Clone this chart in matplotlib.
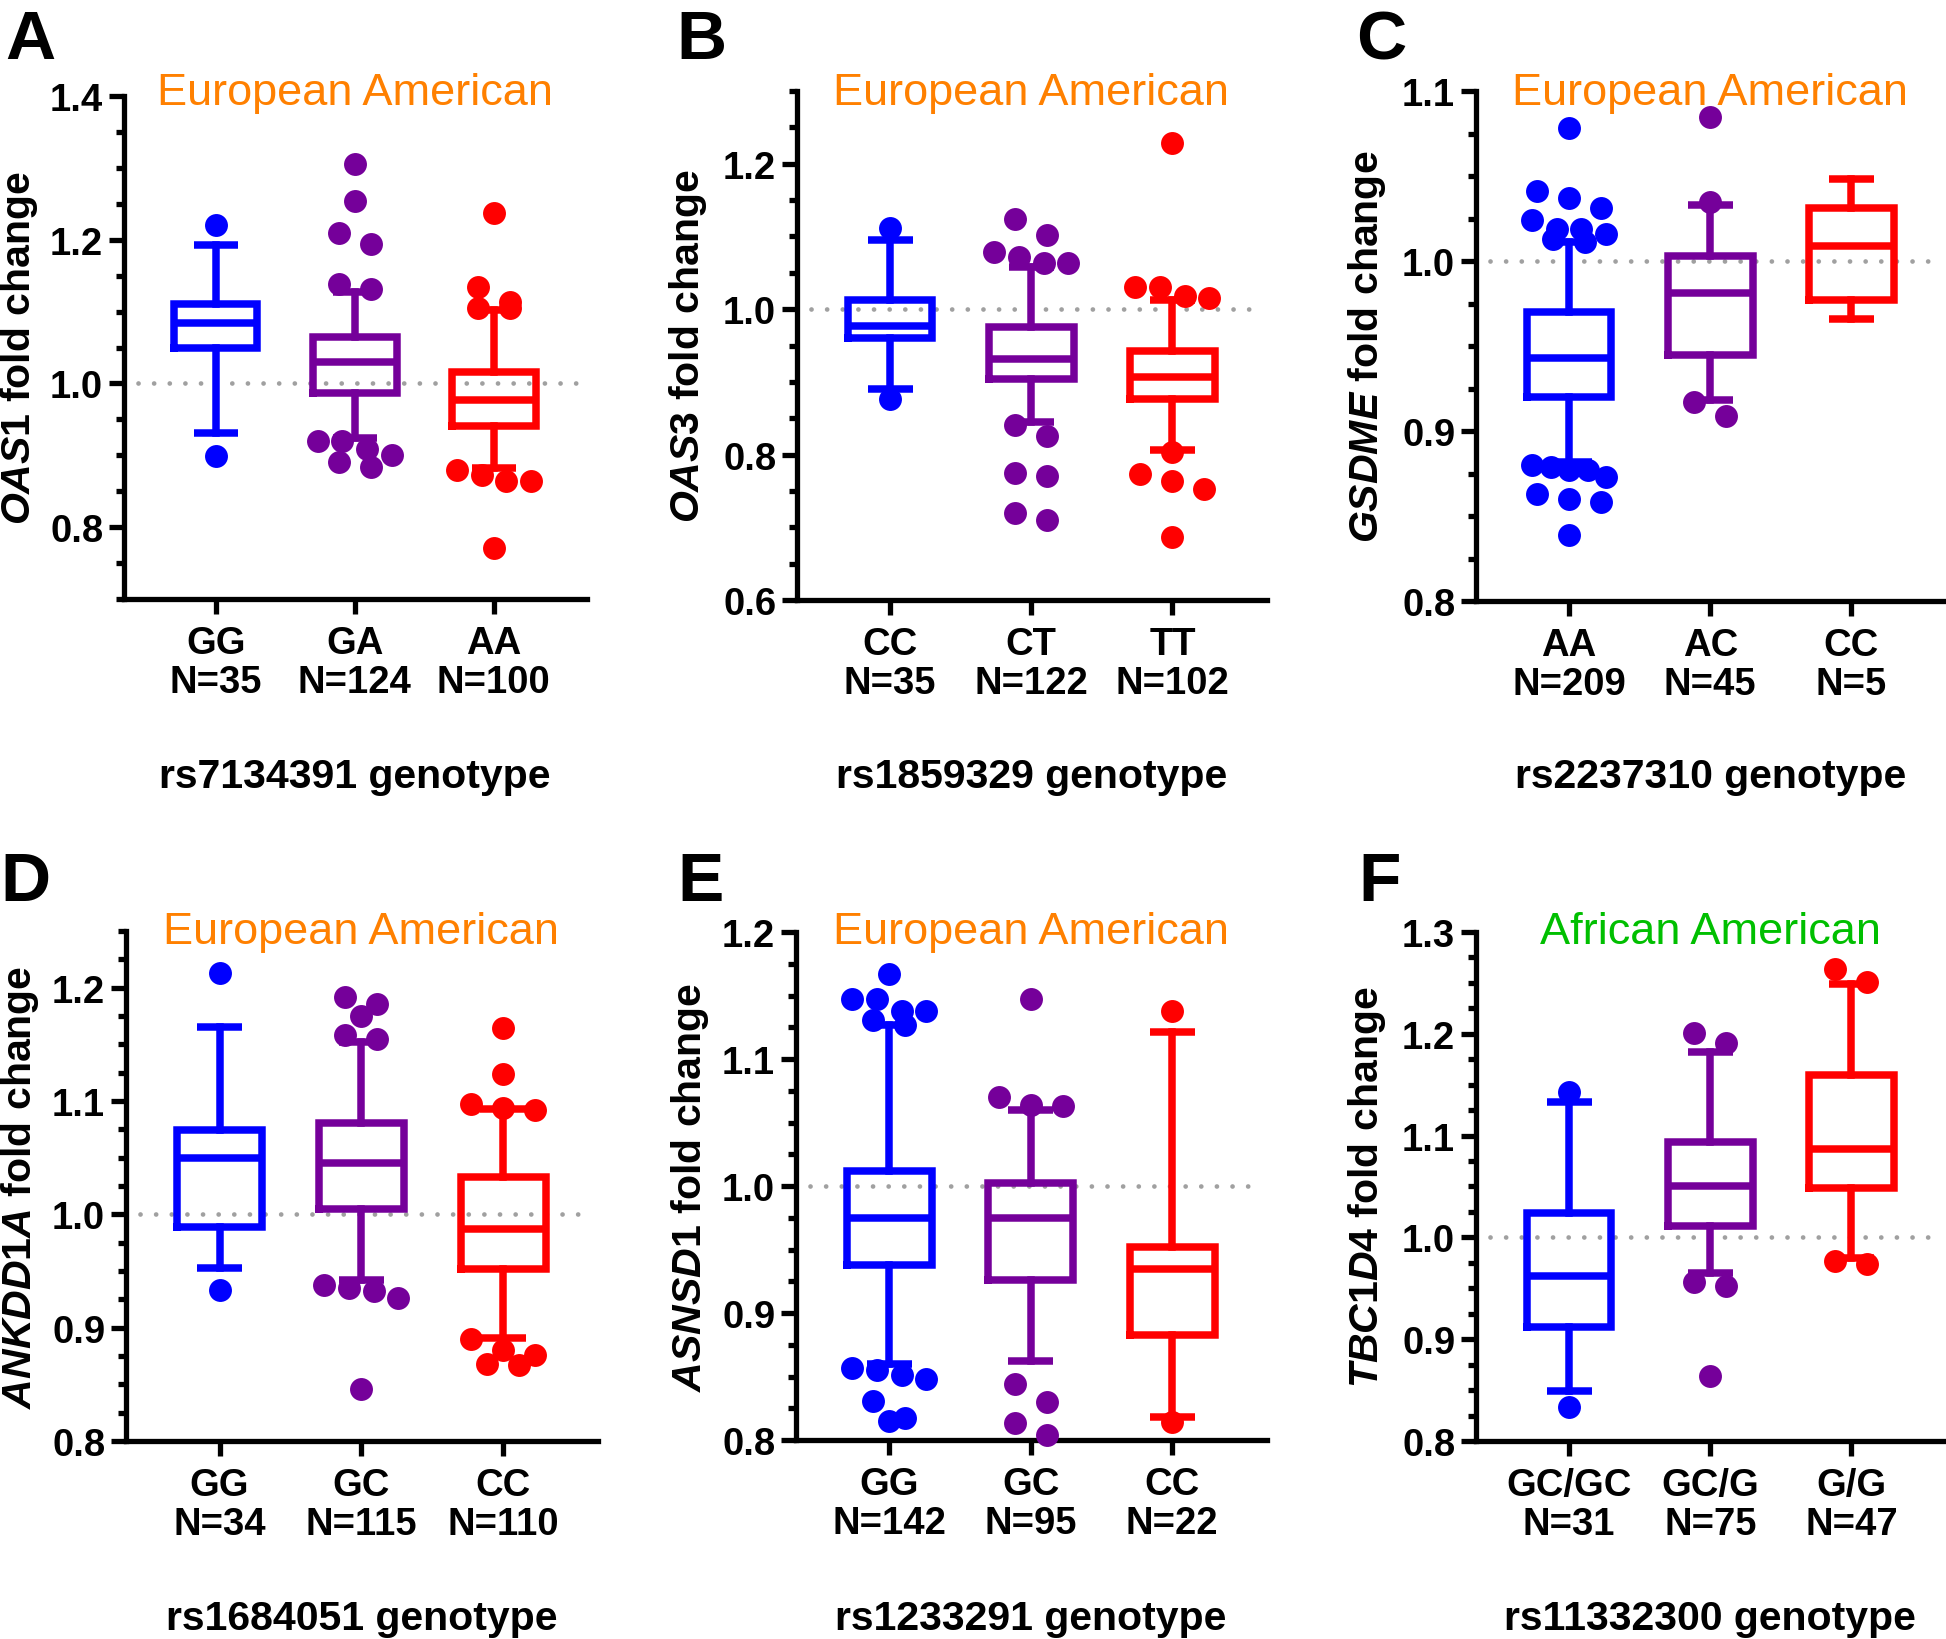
import matplotlib
matplotlib.use("Agg")
import matplotlib.pyplot as plt
from matplotlib.ticker import MultipleLocator, FormatStrFormatter

plt.rcParams['font.family'] = ['Liberation Sans', 'DejaVu Sans']
plt.rcParams['mathtext.fontset'] = 'custom'
plt.rcParams['mathtext.it'] = 'Liberation Sans:italic:bold'
plt.rcParams['mathtext.rm'] = 'Liberation Sans:bold'
plt.rcParams['mathtext.bf'] = 'Liberation Sans:bold'

# ---------------- data ----------------
A_labels = ["GG\nN=35", "GA\nN=124", "AA\nN=100"]
A_med = [1.084, 1.030, 0.977]
A_q1 = [1.049, 0.987, 0.941]
A_q3 = [1.110, 1.064, 1.016]
A_lo = [0.931, 0.924, 0.882]
A_hi = [1.193, 1.127, 1.102]
A_out = [[1.221, 0.899],
         [1.305, 1.254, 1.209, 1.194, 1.138, 1.131, 0.920, 0.920, 0.909, 0.900, 0.891, 0.884],
         [1.237, 1.134, 1.114, 1.105, 1.105, 0.880, 0.873, 0.864, 0.864, 0.771]]

B_labels = ["CC\nN=35", "CT\nN=122", "TT\nN=102"]
B_med = [0.977, 0.932, 0.906]
B_q1 = [0.961, 0.904, 0.876]
B_q3 = [1.013, 0.975, 0.942]
B_lo = [0.890, 0.845, 0.806]
B_hi = [1.095, 1.058, 1.012]
B_out = [[1.112, 0.876],
         [1.124, 1.102, 1.079, 1.072, 1.064, 1.064, 0.841, 0.825, 0.774, 0.771, 0.719, 0.710],
         [1.228, 1.030, 1.030, 1.018, 1.016, 0.804, 0.773, 0.763, 0.753, 0.686]]

C_labels = ["AA\nN=209", "AC\nN=45", "CC\nN=5"]
C_med = [0.943, 0.981, 1.009]
C_q1 = [0.920, 0.945, 0.977]
C_q3 = [0.970, 1.003, 1.031]
C_lo = [0.882, 0.918, 0.966]
C_hi = [1.011, 1.033, 1.048]
C_out = [[1.078, 1.041, 1.037, 1.031, 1.024, 1.019, 1.019, 1.016, 1.013, 1.011,
          0.880, 0.879, 0.877, 0.877, 0.873, 0.863, 0.860, 0.858, 0.839],
         [1.085, 1.035, 0.917, 0.909],
         []]

D_labels = ["GG\nN=34", "GC\nN=115", "CC\nN=110"]
D_med = [1.050, 1.045, 0.987]
D_q1 = [0.989, 1.005, 0.952]
D_q3 = [1.074, 1.081, 1.033]
D_lo = [0.953, 0.942, 0.891]
D_hi = [1.165, 1.152, 1.093]
D_out = [[1.213, 0.933],
         [1.192, 1.186, 1.175, 1.158, 1.155, 0.938, 0.935, 0.932, 0.926, 0.846],
         [1.164, 1.124, 1.097, 1.094, 1.092, 0.890, 0.880, 0.876, 0.868, 0.867]]

E_labels = ["GG\nN=142", "GC\nN=95", "CC\nN=22"]
E_med = [0.975, 0.975, 0.935]
E_q1 = [0.938, 0.926, 0.883]
E_q3 = [1.012, 1.002, 0.952]
E_lo = [0.860, 0.862, 0.818]
E_hi = [1.127, 1.060, 1.121]
E_out = [[1.167, 1.147, 1.147, 1.138, 1.138, 1.131, 1.127,
          0.857, 0.855, 0.851, 0.848, 0.831, 0.817, 0.815],
         [1.147, 1.070, 1.064, 1.063, 0.844, 0.830, 0.813, 0.804],
         [1.138, 0.814]]

F_labels = ["GC/GC\nN=31", "GC/G\nN=75", "G/G\nN=47"]
F_med = [0.962, 1.050, 1.087]
F_q1 = [0.912, 1.011, 1.049]
F_q3 = [1.024, 1.094, 1.160]
F_lo = [0.849, 0.965, 0.980]
F_hi = [1.133, 1.182, 1.249]
F_out = [[1.143, 0.833],
         [1.201, 1.191, 0.956, 0.952, 0.864],
         [1.264, 1.251, 0.977, 0.974]]

genes = ["OAS1", "OAS3", "GSDME", "ANKDD1A", "ASNSD1", "TBC1D4"]
snps = ["rs7134391", "rs1859329", "rs2237310", "rs1684051", "rs1233291", "rs11332300"]
populations = ["European American"] * 5 + ["African American"]
letters = ["A", "B", "C", "D", "E", "F"]

# ---------------- styling / layout ----------------
W, H = 1946, 1640
fig = plt.figure(figsize=(W / 100, H / 100), dpi=100)

box_colors = ["#0000FF", "#75009A", "#FF0000"]
pop_colors = {"European American": "#FF8000", "African American": "#00BF00"}

rects = [(124, 587, 97, 600), (797, 1267, 92, 601), (1476, 1946, 92, 602),
         (126, 598, 932, 1442), (796, 1267, 933, 1441), (1476, 1946, 933, 1442)]
ylims = [(0.7, 1.4), (0.6, 1.3), (0.8, 1.1), (0.8, 1.25), (0.8, 1.2), (0.8, 1.3)]
majors = [0.2, 0.2, 0.1, 0.1, 0.1, 0.1]
minors = [0.05, 0.05, 0.025, 0.025, 0.025, 0.025]

panels = [
    (A_labels, A_med, A_q1, A_q3, A_lo, A_hi, A_out),
    (B_labels, B_med, B_q1, B_q3, B_lo, B_hi, B_out),
    (C_labels, C_med, C_q1, C_q3, C_lo, C_hi, C_out),
    (D_labels, D_med, D_q1, D_q3, D_lo, D_hi, D_out),
    (E_labels, E_med, E_q1, E_q3, E_lo, E_hi, E_out),
    (F_labels, F_med, F_q1, F_q3, F_lo, F_hi, F_out),
]

LW = 5.4
MS = 16.5


def fx(x):
    return x / W


def fy(y):
    return 1 - y / H


def swarm_offsets(ax, values, d_px=32, row_px=18, maxspan=74):
    n = len(values)
    ys = [ax.transData.transform((0, v))[1] for v in values]
    order = sorted(range(n), key=lambda i: -values[i])
    rows = []
    for i in order:
        if rows and abs(ys[rows[-1][0]] - ys[i]) < row_px:
            rows[-1].append(i)
        else:
            rows.append([i])
    offs = [0.0] * n
    for r in rows:
        m = len(r)
        s = d_px if m <= 1 else min(d_px, maxspan / (m - 1))
        for k, i in enumerate(r):
            offs[i] = (k - (m - 1) / 2) * s
    ppx = ax.transData.transform((1, 0))[0] - ax.transData.transform((0, 0))[0]
    return [o / ppx for o in offs]


for p, (labels, med, q1, q3, lo, hi, outs) in enumerate(panels):
    l, r, t, b = rects[p]
    ax = fig.add_axes([fx(l), fy(b), (r - l) / W, (b - t) / H])
    ax.set_xlim(-0.66, 2.67)
    ax.set_ylim(*ylims[p])
    for s in ["top", "right"]:
        ax.spines[s].set_visible(False)
    for s in ["left", "bottom"]:
        ax.spines[s].set_linewidth(3.8)
    ax.yaxis.set_major_locator(MultipleLocator(majors[p]))
    ax.yaxis.set_minor_locator(MultipleLocator(minors[p]))
    ax.yaxis.set_major_formatter(FormatStrFormatter('%.1f'))
    ax.tick_params(axis='y', which='major', length=11, width=3.8, pad=4,
                   labelsize=27.5)
    ax.tick_params(axis='y', which='minor', length=6, width=3.8)
    ax.tick_params(axis='x', which='major', length=11, width=3.8, pad=8,
                   labelsize=27.5)
    ax.set_xticks(range(len(labels)))
    ax.set_xticklabels(labels, fontweight='bold', linespacing=1.1)
    for tl in ax.get_yticklabels():
        tl.set_fontweight('bold')

    ax.axhline(1.0, xmin=0.03, xmax=0.985, color="#A0A0A0", lw=3.4,
               linestyle=(0, (0.01, 3.3)), dash_capstyle='round', zorder=1)

    for i in range(len(labels)):
        c = box_colors[i]
        stats = [dict(med=med[i], q1=q1[i], q3=q3[i], whislo=lo[i], whishi=hi[i])]
        ax.bxp(stats, positions=[i], widths=0.6, capwidths=0.32, showfliers=False,
               manage_ticks=False,
               boxprops=dict(color=c, linewidth=LW, solid_joinstyle='miter'),
               medianprops=dict(color=c, linewidth=LW, solid_capstyle='butt'),
               whiskerprops=dict(color=c, linewidth=LW),
               capprops=dict(color=c, linewidth=LW, solid_capstyle='butt'))
        if outs[i]:
            offs = swarm_offsets(ax, outs[i])
            ax.plot([i + o for o in offs], outs[i], linestyle='none', marker='o',
                    ms=MS, mfc=c, mec=c, mew=0, clip_on=False, zorder=5)

    xc = ax.transData.transform((1, 0))[0]
    top_row = p < 3
    fig.text(xc / W, fy(105 if top_row else 944), populations[p], ha='center',
             va='baseline', fontsize=32.5, color=pop_colors[populations[p]])
    fig.text(xc / W, fy(777 if top_row else 1619), snps[p] + " genotype",
             ha='center', va='center', fontsize=29.5, fontweight='bold')
    ylx = [19, 688, 1367, 20, 690, 1367][p]
    fig.text(fx(ylx), fy((t + b) / 2), r"$\mathit{%s}$ fold change" % genes[p],
             rotation=90, ha='center', va='center', fontsize=29.5, fontweight='bold')
    lx = [5, 676, 1356, 0, 677, 1358][p]
    fig.text(fx(lx), fy(9 if top_row else 851), letters[p], ha='left', va='top',
             fontsize=50, fontweight='bold')

fig.savefig("out.png", dpi=100)
